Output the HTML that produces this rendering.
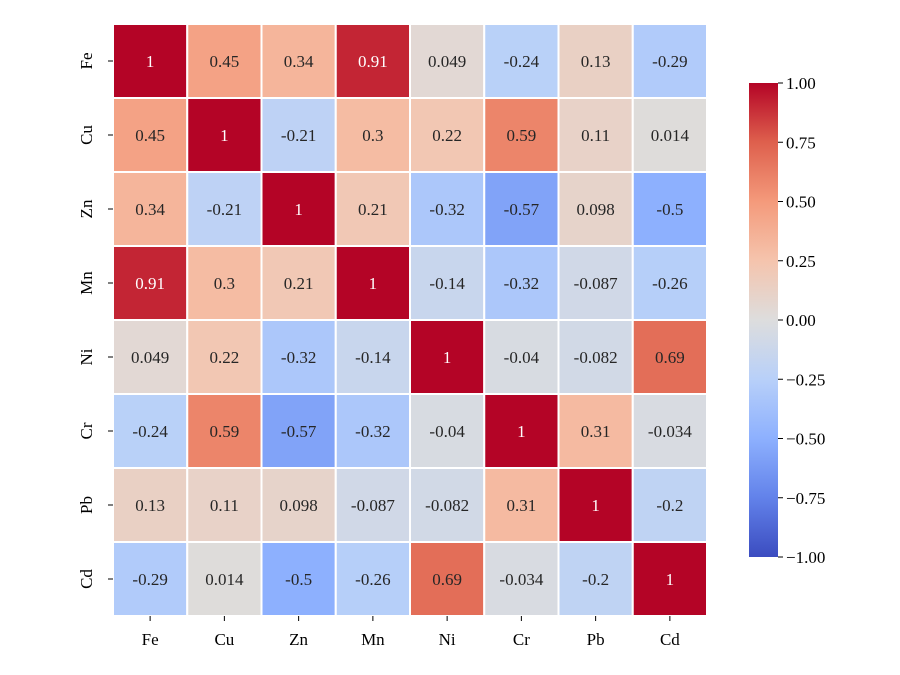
<!DOCTYPE html>
<html><head><meta charset="utf-8">
<style>
body{margin:0;background:#fff;}
svg{display:block;font-family:"Liberation Serif",serif;}
</style></head>
<body>
<svg id="chart" width="900" height="675" viewBox="0 0 900 675">
<defs>
<linearGradient id="cw" x1="0" y1="1" x2="0" y2="0">
<stop offset="0" stop-color="rgb(59,76,192)"/>
<stop offset="0.125" stop-color="rgb(98,130,234)"/>
<stop offset="0.25" stop-color="rgb(141,176,254)"/>
<stop offset="0.375" stop-color="rgb(184,208,249)"/>
<stop offset="0.5" stop-color="rgb(221,221,221)"/>
<stop offset="0.625" stop-color="rgb(245,196,173)"/>
<stop offset="0.75" stop-color="rgb(244,154,123)"/>
<stop offset="0.875" stop-color="rgb(222,96,77)"/>
<stop offset="1" stop-color="rgb(180,4,38)"/>
</linearGradient>
</defs>
</svg>
<script>
const labels = ["Fe","Cu","Zn","Mn","Ni","Cr","Pb","Cd"];
const values = [
[1,0.45,0.34,0.91,0.049,-0.24,0.13,-0.29],
[0.45,1,-0.21,0.3,0.22,0.59,0.11,0.014],
[0.34,-0.21,1,0.21,-0.32,-0.57,0.098,-0.5],
[0.91,0.3,0.21,1,-0.14,-0.32,-0.087,-0.26],
[0.049,0.22,-0.32,-0.14,1,-0.04,-0.082,0.69],
[-0.24,0.59,-0.57,-0.32,-0.04,1,0.31,-0.034],
[0.13,0.11,0.098,-0.087,-0.082,0.31,1,-0.2],
[-0.29,0.014,-0.5,-0.26,0.69,-0.034,-0.2,1]
];
const cbTicks = [1,0.75,0.5,0.25,0,-0.25,-0.5,-0.75,-1];
const cbTickLabels = ["1.00","0.75","0.50","0.25","0.00","\u22120.25","\u22120.50","\u22120.75","\u22121.00"];

const NS="http://www.w3.org/2000/svg";
const svg=document.getElementById('chart');
const X0=113,X1=707,Y0=24,Y1=616;
const cw=(X1-X0)/labels.length, ch=(Y1-Y0)/labels.length;
const xs=i=>X0+i*cw, ys=i=>Y0+i*ch;
const stops=[[59,76,192],[98,130,234],[141,176,254],[184,208,249],[221,221,221],[245,196,173],[244,154,123],[222,96,77],[180,4,38]];
function color(v){let t=(v+1)/2*8;t=Math.max(0,Math.min(8,t));const i=Math.min(7,Math.floor(t)),f=t-i;
 return stops[i].map((c,k)=>Math.round(c+(stops[i+1][k]-c)*f));}
function el(tag,attrs,text){const e=document.createElementNS(NS,tag);for(const k in attrs)e.setAttribute(k,attrs[k]);if(text!==undefined)e.textContent=text;svg.appendChild(e);return e;}

values.forEach((row,r)=>row.forEach((v,c)=>{
 const col=color(v);
 const rect=el('rect',{x:xs(c),y:ys(r),width:cw,height:ch,fill:`rgb(${col})`,stroke:'#fff','stroke-width':2});
 
 
 const lum=(0.2126*col[0]+0.7152*col[1]+0.0722*col[2])/255;
 const t=el('text',{x:xs(c)+cw/2,y:ys(r)+ch/2+6,'text-anchor':'middle','font-size':17,fill:lum<0.408?'#fff':'#262626'},String(v));
 
 
}));
labels.forEach((l,i)=>{
 const cx=xs(i)+cw/2;
 el('line',{x1:cx,y1:Y1,x2:cx,y2:Y1+5,stroke:'#000','stroke-width':1});
 const t=el('text',{x:cx,y:Y1+29,'text-anchor':'middle','font-size':17,fill:'#000'},l);
 
 
 const cy=ys(i)+ch/2;
 el('line',{x1:X0-5,y1:cy,x2:X0,y2:cy,stroke:'#000','stroke-width':1});
 const ty=el('text',{x:0,y:0,'text-anchor':'middle','font-size':17,fill:'#000',transform:`translate(${X0-21},${cy}) rotate(-90)`},l);
 
 
});
const CB={x:749,y0:83,y1:557,w:29};
const cb=el('rect',{x:CB.x,y:CB.y0,width:CB.w,height:CB.y1-CB.y0,fill:'url(#cw)'});


const cbY=v=>CB.y1-(v+1)/2*(CB.y1-CB.y0);
cbTicks.forEach((v,i)=>{
 const y=cbY(v);
 el('line',{x1:CB.x+CB.w,y1:y,x2:CB.x+CB.w+5,y2:y,stroke:'#000','stroke-width':1});
 const t=el('text',{x:CB.x+CB.w+8,y:y+6,'font-size':17,fill:'#000'},cbTickLabels[i]);
 
 
});
</script>
</body></html>
